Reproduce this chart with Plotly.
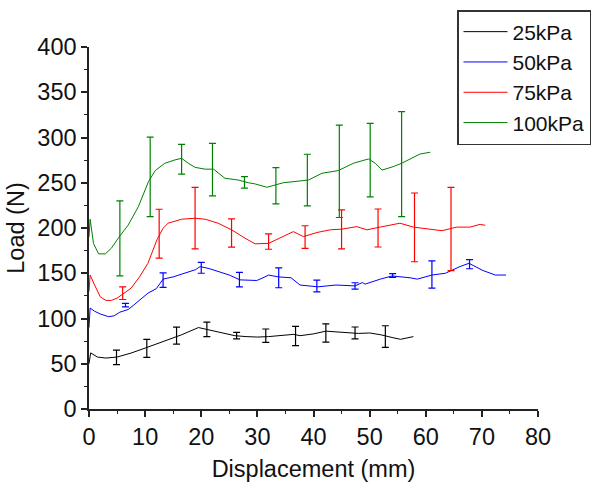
import plotly.graph_objects as go

# ---- data ----
x25 = [0, 0.3, 1.5, 3, 5, 7.5, 10, 14, 16.5, 19.5, 21, 24, 26, 28, 30, 32, 35, 36.5, 37.6, 40, 42.2, 45, 48, 50, 52, 54, 55.5, 57.8]
y25 = [50, 62, 57.4, 56.3, 57.4, 61.8, 67.3, 76.5, 82, 90, 88, 84, 81, 80, 79.5, 80, 82, 82.5, 81, 83, 86, 84.5, 83.5, 84, 82, 79, 77, 80]
ex25 = [4.9, 10.3, 15.6, 21, 26.3, 31.5, 36.8, 42.2, 47.4, 52.8]
ey25 = [57, 67, 81, 88, 81, 81, 80.6, 84, 84, 80]
ee25 = [8, 10, 9.4, 8, 3.6, 7.4, 10.6, 10, 6.6, 12]

x50 = [0, 0.2, 1, 2, 3.5, 4.5, 5.5, 7, 8, 9, 10.5, 12, 13.2, 15, 17, 19, 19.8, 21.5, 23.5, 25, 26.9, 29.9, 31, 32, 33.7, 36, 37.6, 40.8, 44, 47.4, 48.7, 49.2, 51.9, 54, 57.2, 58.5, 61.1, 63.5, 66.1, 67.7, 70.2, 72.4, 74.3]
y50 = [90, 111.5, 108, 105, 102, 103, 107, 110, 115, 120, 128, 133, 143.5, 146, 150, 154, 157.4, 155, 151, 148, 142.7, 142, 145, 148, 146, 145, 137, 135, 137, 136, 139.7, 138, 143.5, 147, 145, 143.5, 148, 150, 157.4, 161, 153, 148, 148]
ex50 = [6.5, 13.2, 20, 26.8, 33.8, 40.6, 47.4, 54.1, 61.1, 67.8]
ey50 = [114.8, 142.5, 156, 143, 145, 136, 136, 147.5, 148.6, 160]
ee50 = [2, 8, 6, 8, 11, 6.5, 3.5, 2, 15, 5]

x75 = [0, 0.2, 1, 2, 3, 4, 5, 6, 7.5, 9, 10.5, 12.1, 13.2, 14.1, 16.5, 18.9, 20.7, 23, 25.4, 27.8, 29.6, 32, 34.6, 36.4, 38.2, 40.6, 43, 45, 47.7, 49.5, 51.9, 55.4, 57.8, 60.8, 62.9, 65.5, 67.9, 69.7, 70.6]
y75 = [130, 148, 137, 124, 120, 120, 122.5, 127, 133.5, 146, 161, 186.9, 199.8, 205.3, 209.7, 210.8, 209.7, 205.3, 198, 188.7, 182.5, 183, 191, 196, 190.5, 195, 198, 198.7, 201.5, 198, 201, 205.3, 201, 198.7, 197, 201, 201, 204, 203]
ex75 = [6, 12.5, 18.9, 25.4, 32, 38.5, 45, 51.5, 58, 64.5]
ey75 = [128, 193.7, 211, 194.5, 185, 190, 198.5, 200, 200.7, 199]
ee75 = [7, 27, 34, 15.6, 8.5, 12.5, 21.5, 21, 38, 46]

x100 = [0, 0.2, 0.8, 1.7, 2.9, 4, 5.2, 7, 8.8, 10.6, 11.8, 13.5, 15.3, 16.5, 17.7, 18.9, 20.7, 22.2, 24.2, 26.6, 28.4, 29.6, 31.7, 33.5, 34.6, 37.6, 39.1, 41.5, 44.4, 47.1, 49.8, 51, 52.2, 54.2, 55.7, 59, 60.8]
y100 = [190, 209.7, 183, 171.4, 171.4, 177.7, 188.7, 203.4, 223.6, 251.3, 263.4, 271.5, 275.2, 277, 271.5, 267, 265, 265, 255, 253, 250, 248.7, 245, 247.6, 250, 252, 253, 260.5, 263.4, 271.5, 276.3, 271.5, 264, 267.8, 271.5, 281.8, 283.7]
ex100 = [5.5, 10.9, 16.5, 22, 27.7, 33.3, 38.9, 44.6, 50.1, 55.7]
ey100 = [188.5, 256.5, 276, 264.5, 250.4, 246.7, 253, 262.6, 275, 270.5]
ee100 = [41.5, 44, 16.5, 29, 6.4, 20, 28.5, 51, 40.5, 58]

names = ["25kPa", "50kPa", "75kPa", "100kPa"]
colors = ["#000000", "#0000ff", "#ff0000", "#008000"]
series = [(x25, y25, ex25, ey25, ee25), (x50, y50, ex50, ey50, ee50),
          (x75, y75, ex75, ey75, ee75), (x100, y100, ex100, ey100, ee100)]

fig = go.Figure()
for name, col, (xs, ys, exs, eys, ees) in zip(names, colors, series):
    fig.add_trace(go.Scatter(x=xs, y=ys, mode="lines", name=name,
                             line=dict(color=col, width=1)))
for name, col, (xs, ys, exs, eys, ees) in zip(names, colors, series):
    fig.add_trace(go.Scatter(x=exs, y=eys, mode="markers", showlegend=False,
                             marker=dict(size=0.1, color=col, opacity=0),
                             error_y=dict(type="data", array=ees, visible=True,
                                          color=col, thickness=1.2, width=3.5)))

font = "Liberation Sans, Arial, sans-serif"
axis_common = dict(showline=True, linecolor="#222222", linewidth=1.5,
                   ticks="outside", ticklen=6, tickwidth=1.5, tickcolor="#222222",
                   showgrid=False, zeroline=False, mirror=False, automargin=False,
                   tickfont=dict(family=font, size=23.5, color="#111111"))
fig.update_layout(
    width=600, height=488,
    margin=dict(l=89, r=62, t=47, b=79, autoexpand=False),
    paper_bgcolor="white", plot_bgcolor="white",
    font=dict(family=font, color="#111111"),
    xaxis=dict(range=[0, 80], dtick=10, tick0=0,
               minor=dict(dtick=5, ticks="outside", ticklen=3, tickcolor="#222222", tickwidth=1.2),
               title=dict(text="Displacement (mm)", font=dict(family=font, size=23.5), standoff=12),
               **axis_common),
    yaxis=dict(range=[0, 400], dtick=50, tick0=0,
               minor=dict(dtick=25, ticks="outside", ticklen=3, tickcolor="#222222", tickwidth=1.2),
               title=dict(text="Load (N)", font=dict(family=font, size=23.5), standoff=6),
               **axis_common),
    legend=dict(xref="container", yref="container", x=457 / 600, y=1 - 10 / 488,
                xanchor="left", yanchor="top",
                bordercolor="#333333", borderwidth=1.5, bgcolor="white",
                font=dict(family=font, size=21, color="#111111"),
                tracegroupgap=0, itemwidth=44),
    showlegend=True,
)
fig.write_html("out.html")
